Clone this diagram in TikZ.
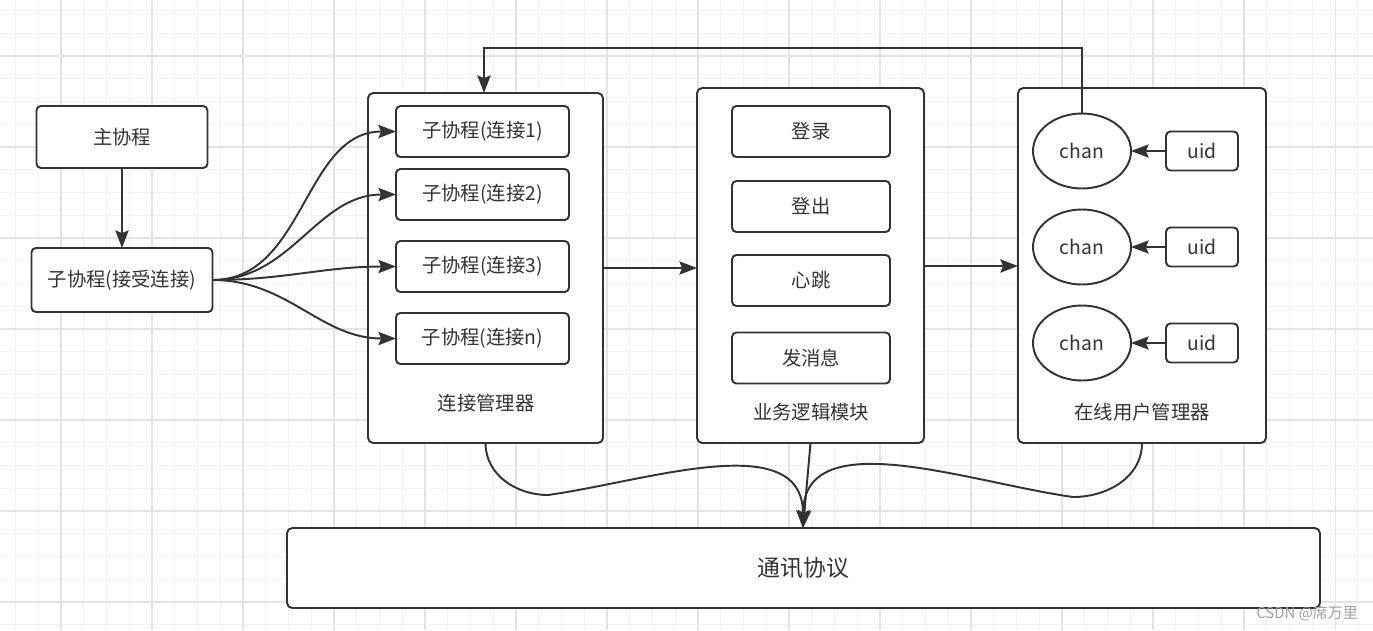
\documentclass[tikz,border=0pt]{standalone}
\usepackage{fontspec}
\setmainfont{Noto Sans CJK SC}
\definecolor{ink}{HTML}{333333}
\definecolor{minorline}{HTML}{F2F2F2}
\definecolor{majorline}{HTML}{E3E3E3}
\definecolor{mark}{HTML}{A0A0A0}
\usetikzlibrary{arrows.meta}
\usetikzlibrary{shapes.geometric}
\tikzstyle{base}=[inner sep=0pt, outer sep=0pt, line width=1.1pt, draw=ink, text=ink]
\tikzstyle{box}=[base, draw, fill=white, rounded corners=2.5pt, font=\fontsize{11}{13}\selectfont]
\tikzstyle{panel}=[box, rounded corners=3pt]
\tikzstyle{chanshape}=[base, draw, fill=white, ellipse, font=\fontsize{11}{13}\selectfont]
\tikzstyle{caption}=[inner sep=0pt, text=ink, font=\fontsize{11}{13}\selectfont]
\tikzstyle{arr}=[line width=1.1pt, draw=ink, -{Stealth[length=10pt, width=7.5pt, inset=1.5pt]}]
\tikzstyle{minorgrid}=[line width=0.5pt, draw=minorline]
\tikzstyle{majorgrid}=[line width=0.6pt, draw=majorline]

\begin{document}
\begin{tikzpicture}
    \useasboundingbox (0,0) rectangle (27.46,-12.6);
    % background grid
    \fill[white] (0,0) rectangle (27.46,-12.6);
    \foreach \k in {-2,...,57} {
        \draw[minorgrid] ({1.22+0.455*\k},0) -- ({1.22+0.455*\k},-12.6);
    }
    \foreach \k in {-2,...,25} {
        \draw[minorgrid] (0,{-1.12-0.455*\k}) -- (27.46,{-1.12-0.455*\k});
    }
    \foreach \k in {0,...,14} {
        \draw[majorgrid] ({1.22+1.82*\k},0) -- ({1.22+1.82*\k},-12.6);
    }
    \foreach \k in {0,...,6} {
        \draw[majorgrid] (0,{-1.12-1.82*\k}) -- (27.46,{-1.12-1.82*\k});
    }

    % left side
    \node [box, minimum width=3.42cm, minimum height=1.24cm] (main) at (2.44,-2.74) {主协程};
    \node [box, minimum width=3.62cm, minimum height=1.28cm] (accept) at (2.44,-5.6) {子协程(接受连接)};

    % connection manager
    \node [panel, minimum width=4.70cm, minimum height=7.00cm] (connmgr) at (9.71,-5.36) {};
    \node [box, minimum width=3.46cm, minimum height=1.02cm] (conn1) at (9.65,-2.63) {子协程(连接1)};
    \node [box, minimum width=3.46cm, minimum height=1.02cm] (conn2) at (9.65,-3.89) {子协程(连接2)};
    \node [box, minimum width=3.46cm, minimum height=1.02cm] (conn3) at (9.65,-5.33) {子协程(连接3)};
    \node [box, minimum width=3.46cm, minimum height=1.02cm] (connn) at (9.65,-6.77) {子协程(连接n)};
    \node [caption] (connmgrtext) at (9.72,-8.06) {连接管理器};

    % business logic
    \node [panel, minimum width=4.54cm, minimum height=7.10cm] (logic) at (16.21,-5.31) {};
    \node [box, minimum width=3.16cm, minimum height=1.02cm] (login) at (16.22,-2.63) {登录};
    \node [box, minimum width=3.16cm, minimum height=1.02cm] (logout) at (16.22,-4.13) {登出};
    \node [box, minimum width=3.16cm, minimum height=1.02cm] (beat) at (16.22,-5.61) {心跳};
    \node [box, minimum width=3.16cm, minimum height=1.02cm] (send) at (16.22,-7.16) {发消息};
    \node [caption] (logictext) at (16.22,-8.24) {业务逻辑模块};

    % online users
    \node [panel, minimum width=4.96cm, minimum height=7.10cm] (online) at (22.84,-5.31) {};
    \foreach \i/\y in {1/-3.02, 2/-4.94, 3/-6.86} {
        \node [chanshape, minimum width=1.96cm, minimum height=1.50cm] (chan\i) at (21.64,\y) {chan};
        \node [box, minimum width=1.44cm, minimum height=0.78cm] (uid\i) at (24.04,\y) {uid};
        \draw [arr] (uid\i) -- (chan\i);
    }
    \node [caption] (onlinetext) at (22.84,-8.24) {在线用户管理器};

    % protocol
    \node [panel, minimum width=20.66cm, minimum height=1.60cm, font=\fontsize{13}{16}\selectfont] (proto) at (16.07,-11.36) {通讯协议};
    \coordinate (hub) at (16.06,-10.56);

    \node [inner sep=0pt, text=mark, font=\fontsize{8.5}{10}\selectfont] (csdn) at (26.14,-12.26) {CSDN @席万里};

    % connectors
    \draw [arr] (main) -- (accept);
    \foreach \c in {conn1, conn2, conn3, connn} {
        \draw [arr] (accept.east) to[out=0, in=180] (\c.west);
    }
    \draw [arr] (connmgr.east |- 0,-5.36) -- (logic.west |- 0,-5.36);
    \draw [arr] (logic.east |- 0,-5.32) -- (online.west |- 0,-5.32);

    \coordinate (loop) at (9.68,-0.96);
    \draw [arr] (chan1.north) |- (loop) -- (loop |- connmgr.north);

    \draw [arr] (connmgr.south) to[out=-90, in=180] (10.96,-9.9) to[out=8, in=90] (hub);
    \draw [arr] (logic.south) -- (hub);
    \draw [arr] (online.south) to[out=-90, in=0] (21.46,-9.94) to[out=172, in=90] (hub);
\end{tikzpicture}
\end{document}
